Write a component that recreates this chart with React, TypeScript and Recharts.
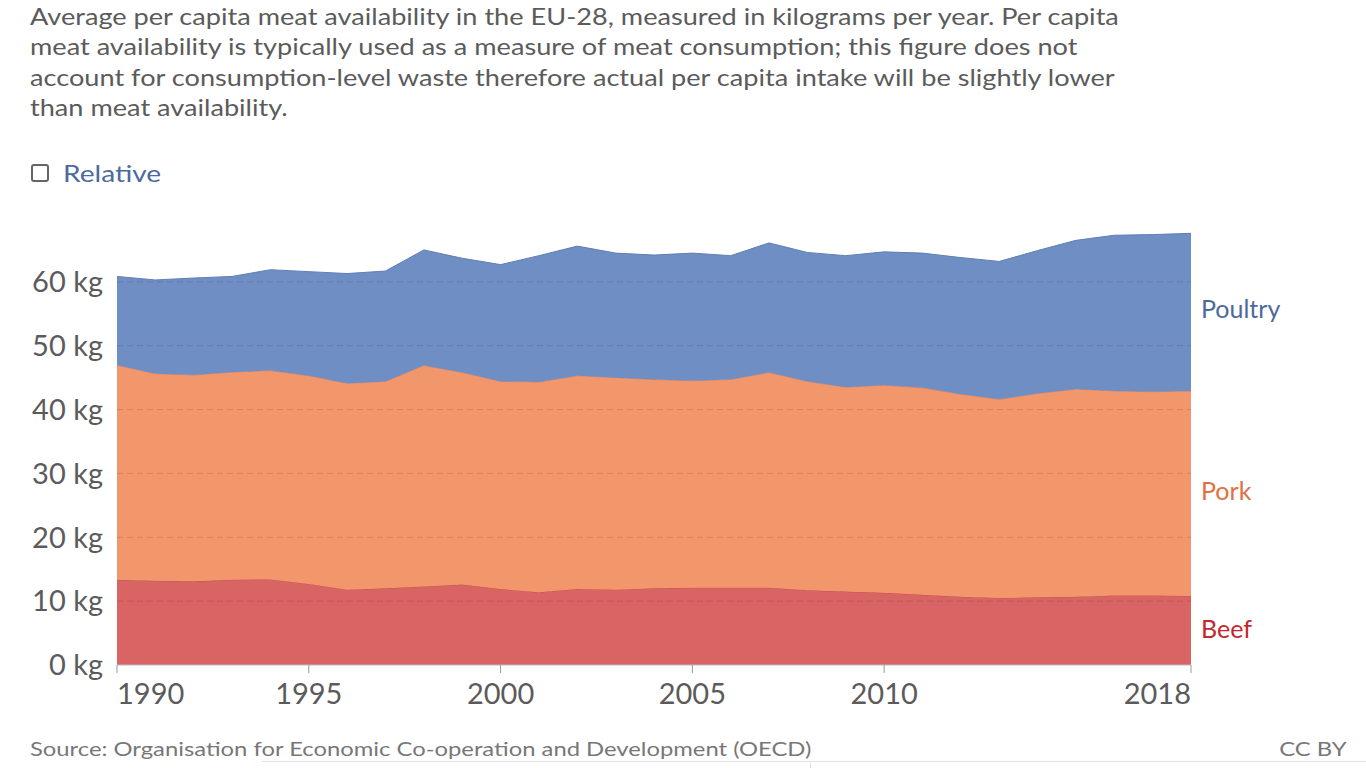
import React from "react";
import { AreaChart, Area, XAxis, YAxis, ReferenceLine } from "recharts";

const years = [
  1990, 1991, 1992, 1993, 1994, 1995, 1996, 1997, 1998, 1999, 2000, 2001, 2002,
  2003, 2004, 2005, 2006, 2007, 2008, 2009, 2010, 2011, 2012, 2013, 2014, 2015,
  2016, 2017, 2018,
];
const beef = [
  13.35, 13.2, 13.1, 13.35, 13.4, 12.7, 11.8, 12.0, 12.3, 12.6, 11.9, 11.4, 11.9,
  11.8, 12.0, 12.1, 12.1, 12.1, 11.7, 11.5, 11.3, 11.0, 10.7, 10.5, 10.6, 10.7,
  10.9, 10.9, 10.8,
];
const pork = [
  33.6, 32.4, 32.3, 32.5, 32.7, 32.6, 32.3, 32.4, 34.6, 33.2, 32.5, 32.9, 33.4,
  33.2, 32.7, 32.4, 32.6, 33.7, 32.7, 32.0, 32.5, 32.4, 31.7, 31.1, 31.9, 32.5,
  32.0, 31.9, 32.1,
];
const poultry = [
  13.9, 14.7, 15.2, 15.0, 15.8, 16.3, 17.2, 17.3, 18.1, 17.9, 18.3, 19.8, 20.3,
  19.5, 19.5, 20.0, 19.4, 20.3, 20.2, 20.6, 20.9, 21.1, 21.4, 21.6, 22.4, 23.3,
  24.4, 24.6, 24.7,
];
const xTicks = [1990, 1995, 2000, 2005, 2010, 2018];
const yTicks = [0, 10, 20, 30, 40, 50, 60];
const gridLines = [10, 20, 30, 40, 50, 60];

const data = years.map((year, i) => ({
  year,
  beef: beef[i],
  pork: pork[i],
  poultry: poultry[i],
}));

const font = "Lato, 'Noto Sans', sans-serif";

const XTick = (props: any) => {
  const { x, y, payload } = props;
  const v = payload.value;
  const anchor = v === 1990 ? "start" : v === 2018 ? "end" : "middle";
  return (
    <text
      x={x}
      y={y + 29}
      textAnchor={anchor}
      fill="#5b5b5b"
      fontSize={29}
      fontFamily={font}
    >
      {v}
    </text>
  );
};

export default function App() {
  return (
    <div
      style={{
        position: "absolute",
        left: 0,
        top: 0,
        width: 1366,
        height: 768,
        background: "#fff",
        fontFamily: font,
        overflow: "hidden",
      }}
    >
      <div
        style={{
          position: "absolute",
          left: 30,
          top: 1,
          fontSize: 23,
          lineHeight: "30.4px",
          color: "#5b5b5b",
          whiteSpace: "nowrap",
          transform: "scaleX(1.18)",
          transformOrigin: "left top",
        }}
      >
        Average per capita meat availability in the EU-28, measured in kilograms per year. Per capita
        <br />
        meat availability is typically used as a measure of meat consumption; this figure does not
        <br />
        account for consumption-level waste therefore actual per capita intake will be slightly lower
        <br />
        than meat availability.
      </div>

      <div
        style={{
          position: "absolute",
          left: 31,
          top: 158,
          display: "flex",
          alignItems: "center",
        }}
      >
        <span
          style={{
            display: "inline-block",
            width: 14,
            height: 14,
            border: "2px solid #666",
            borderRadius: 3,
            marginRight: 14,
          }}
        />
        <span
          style={{
            fontSize: 24,
            color: "#4c6a9c",
            display: "inline-block",
            transform: "scaleX(1.17)",
            transformOrigin: "left center",
          }}
        >
          Relative
        </span>
      </div>

      <div style={{ position: "absolute", left: 0, top: 0 }}>
        <AreaChart
          width={1366}
          height={768}
          data={data}
          margin={{ top: 218, right: 175, left: 0, bottom: 63 }}
        >
          <XAxis
            dataKey="year"
            type="number"
            domain={[1990, 2018]}
            ticks={xTicks}
            height={40}
            stroke="#bbb"
            tickLine={{ stroke: "#999" }}
            tickSize={8}
            tick={<XTick />}
            interval={0}
          />
          <YAxis
            type="number"
            domain={[0, 70]}
            ticks={yTicks}
            width={117}
            axisLine={false}
            tickLine={false}
            tickFormatter={(v) => `${v} kg`}
            tick={{ fill: "#5b5b5b", fontSize: 29, fontFamily: font }}
            tickMargin={8}
            interval={0}
          />
          <Area
            type="linear"
            dataKey="beef"
            stackId="a"
            fill="#d96464"
            fillOpacity={1}
            stroke="#c94f4f"
            strokeWidth={1}
            isAnimationActive={false}
          />
          <Area
            type="linear"
            dataKey="pork"
            stackId="a"
            fill="#f2966c"
            fillOpacity={1}
            stroke="#e4855a"
            strokeWidth={1}
            isAnimationActive={false}
          />
          <Area
            type="linear"
            dataKey="poultry"
            stackId="a"
            fill="#6f8ec4"
            fillOpacity={1}
            stroke="#5f7fb6"
            strokeWidth={1}
            isAnimationActive={false}
          />
          {gridLines.map((g) => (
            <ReferenceLine
              key={g}
              y={g}
              stroke="#000"
              strokeOpacity={0.12}
              strokeDasharray="6 4"
            />
          ))}
        </AreaChart>
      </div>

      <div style={{ position: "absolute", left: 1201, top: 293, fontSize: 25, color: "#4c6a9c" }}>
        Poultry
      </div>
      <div style={{ position: "absolute", left: 1201, top: 475, fontSize: 25, color: "#e0703f" }}>
        Pork
      </div>
      <div style={{ position: "absolute", left: 1201, top: 613, fontSize: 25, color: "#c3282f" }}>
        Beef
      </div>

      <div
        style={{
          position: "absolute",
          left: 30,
          top: 736,
          fontSize: 20,
          color: "#777",
          whiteSpace: "nowrap",
          transform: "scaleX(1.19)",
          transformOrigin: "left top",
        }}
      >
        Source: Organisation for Economic Co-operation and Development (OECD)
      </div>
      <div
        style={{
          position: "absolute",
          right: 19,
          top: 736,
          fontSize: 20,
          color: "#777",
          whiteSpace: "nowrap",
          transform: "scaleX(1.19)",
          transformOrigin: "right top",
        }}
      >
        CC BY
      </div>
      <div
        style={{
          position: "absolute",
          left: 262,
          top: 761,
          width: 1104,
          height: 1,
          background: "#e2e2e2",
        }}
      />
      <div
        style={{
          position: "absolute",
          left: 810,
          top: 761,
          width: 1,
          height: 7,
          background: "#e2e2e2",
        }}
      />
    </div>
  );
}
